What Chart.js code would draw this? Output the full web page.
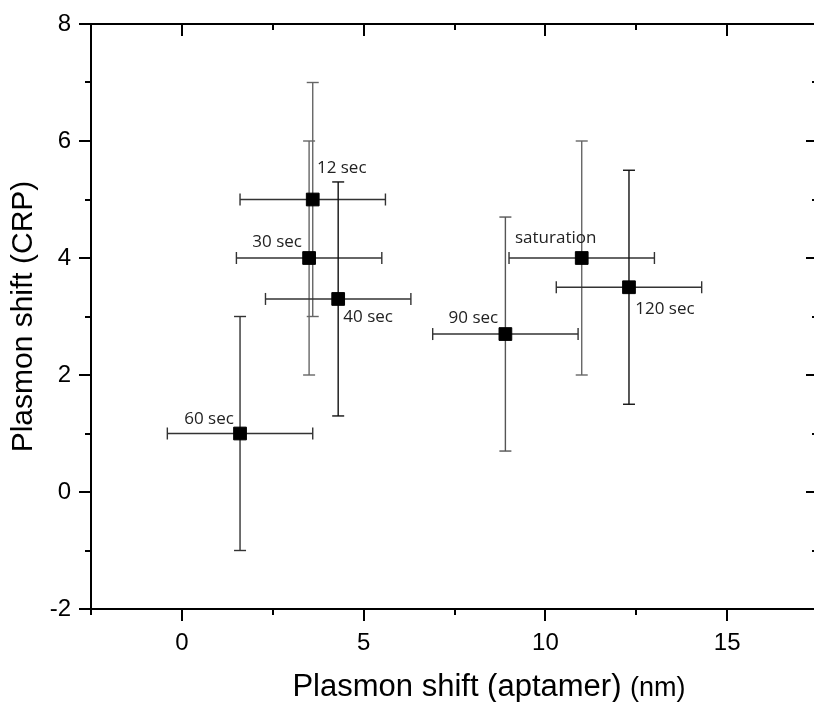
<!DOCTYPE html>
<html>
<head>
<meta charset="utf-8">
<script src="https://cdn.jsdelivr.net/npm/chart.js@4.4.1/dist/chart.umd.min.js"></script>
<style>
    html, body { margin: 0; padding: 0; background: #fff; overflow: hidden; }
    #wrap { position: relative; width: 814px; height: 702px; overflow: hidden; }
    #plot { position: absolute; left: 0; top: 0; }
</style>
</head>
<body>
<div id="wrap">
    <canvas id="plot" width="830" height="702"></canvas>
</div>
<script>
// time points
const pointLabels = ['12 sec', '30 sec', '40 sec', '60 sec', '90 sec', 'saturation', '120 sec'];
const aptamerShift = [3.6, 3.5, 4.3, 1.6, 8.9, 11.0, 12.3];
const crpShift = [5.0, 4.0, 3.3, 1.0, 2.7, 4.0, 3.5];
const aptamerError = [2, 2, 2, 2, 2, 2, 2];
const crpError = [2, 2, 2, 2, 2, 2, 2];

const xTicks = [0, 5, 10, 15];
const xMinorTicks = [-2.5, 2.5, 7.5, 12.5, 17.5];
const yTicks = [-2, 0, 2, 4, 6, 8];
const yMinorTicks = [-1, 1, 3, 5, 7];

// label placement next to each marker (pixels)
const labelOffsets = [[29, -31], [-32, -16], [30, 18], [-31, -14], [-32, -16], [-26, -20], [36, 22]];
// vertical error bar colours differ a bit in the original
const yErrColors = ['#666', '#666', '#111', '#333', '#555', '#666', '#111'];

document.addEventListener('DOMContentLoaded', function () {
    drawPlasmonChart();
});

function line(ctx, x1, y1, x2, y2) {
    ctx.beginPath();
    ctx.moveTo(x1, y1);
    ctx.lineTo(x2, y2);
    ctx.stroke();
}

const errorBarsPlugin = {
    id: 'errorBars',
    beforeDatasetsDraw(chart) {
        const ctx = chart.ctx;
        const xs = chart.scales.x;
        const ys = chart.scales.y;
        const cap = 6;
        ctx.save();
        ctx.lineWidth = 1.4;
        aptamerShift.forEach((xv, i) => {
            const px = xs.getPixelForValue(xv);
            const py = ys.getPixelForValue(crpShift[i]);
            // horizontal bar
            const xl = xs.getPixelForValue(xv - aptamerError[i]);
            const xr = xs.getPixelForValue(xv + aptamerError[i]);
            ctx.strokeStyle = '#333';
            line(ctx, xl, py, xr, py);
            line(ctx, xl, py - cap, xl, py + cap);
            line(ctx, xr, py - cap, xr, py + cap);
            // vertical bar
            const yt = ys.getPixelForValue(crpShift[i] + crpError[i]);
            const yb = ys.getPixelForValue(crpShift[i] - crpError[i]);
            ctx.strokeStyle = yErrColors[i];
            line(ctx, px, yt, px, yb);
            line(ctx, px - cap, yt, px + cap, yt);
            line(ctx, px - cap, yb, px + cap, yb);
        });
        ctx.restore();
    },
    afterDraw(chart) {
        const ctx = chart.ctx;
        const xs = chart.scales.x;
        const ys = chart.scales.y;
        const { left, right, top, bottom } = chart.chartArea;
        ctx.save();
        ctx.strokeStyle = '#000';
        ctx.lineWidth = 2;

        // top and right frame
        line(ctx, left - 1, top, right + 1, top);
        line(ctx, right, top, right, bottom);

        xTicks.forEach(v => {
            const px = Math.round(xs.getPixelForValue(v));
            line(ctx, px, bottom, px, bottom + 12);
            line(ctx, px, top, px, top + 12);
        });
        xMinorTicks.forEach(v => {
            const px = Math.round(xs.getPixelForValue(v));
            line(ctx, px, bottom, px, bottom + 6);
            line(ctx, px, top, px, top + 6);
        });
        yTicks.forEach(v => {
            const py = Math.round(ys.getPixelForValue(v));
            line(ctx, left - 12, py, left, py);
            line(ctx, right - 12, py, right, py);
        });
        yMinorTicks.forEach(v => {
            const py = Math.round(ys.getPixelForValue(v));
            line(ctx, left - 6, py, left, py);
            line(ctx, right - 6, py, right, py);
        });

        // point labels
        ctx.fillStyle = '#222';
        ctx.font = '17px "Open Sans"';
        ctx.textAlign = 'center';
        ctx.textBaseline = 'middle';
        pointLabels.forEach((lab, i) => {
            const px = xs.getPixelForValue(aptamerShift[i]);
            const py = ys.getPixelForValue(crpShift[i]);
            ctx.fillText(lab, px + labelOffsets[i][0], py + labelOffsets[i][1]);
        });

        // x axis title with the smaller unit
        const part1 = 'Plasmon shift (aptamer) ';
        const part2 = '(nm)';
        ctx.fillStyle = '#000';
        ctx.textAlign = 'left';
        ctx.textBaseline = 'alphabetic';
        ctx.font = '31px "Liberation Sans"';
        const w1 = ctx.measureText(part1).width;
        ctx.font = '27px "Liberation Sans"';
        const w2 = ctx.measureText(part2).width;
        const startX = 489 - (w1 + w2) / 2;
        ctx.font = '31px "Liberation Sans"';
        ctx.fillText(part1, startX, 696);
        ctx.font = '27px "Liberation Sans"';
        ctx.fillText(part2, startX + w1, 696);
        ctx.restore();
    }
};

function drawPlasmonChart() {
    const canvas = document.getElementById('plot');
    const ctx = canvas.getContext('2d');

    const points = aptamerShift.map((xv, i) => ({ x: xv, y: crpShift[i] }));

    canvas.chartInstance = new Chart(ctx, {
        type: 'scatter',
        data: {
            datasets: [
                {
                    label: 'CRP vs aptamer',
                    data: points,
                    pointStyle: 'rect',
                    pointRadius: 9,
                    pointHoverRadius: 9,
                    backgroundColor: '#000',
                    borderColor: '#000',
                    borderWidth: 1,
                },
            ],
        },
        options: {
            responsive: false,
            animation: false,
            layout: { padding: { left: 0, right: 12, top: 24, bottom: 0 } },
            plugins: {
                legend: { display: false },
                tooltip: { enabled: false },
            },
            scales: {
                x: {
                    type: 'linear',
                    min: -2.5,
                    max: 17.5,
                    afterBuildTicks: scale => { scale.ticks = xTicks.map(v => ({ value: v })); },
                    afterFit: scale => {
                        scale.height = 93;
                        scale.paddingLeft = 0;
                        scale.paddingRight = 0;
                    },
                    grid: { display: false },
                    border: { display: true, color: '#000', width: 2 },
                    ticks: {
                        color: '#000',
                        padding: 12,
                        maxRotation: 0,
                        font: { family: '"Liberation Sans", Arial', size: 24 },
                    },
                },
                y: {
                    type: 'linear',
                    min: -2,
                    max: 8,
                    afterBuildTicks: scale => { scale.ticks = yTicks.map(v => ({ value: v })); },
                    afterFit: scale => {
                        scale.width = 91;
                        scale.paddingTop = 0;
                        scale.paddingBottom = 0;
                    },
                    grid: { display: false },
                    border: { display: true, color: '#000', width: 2 },
                    ticks: {
                        color: '#000',
                        padding: 12,
                        font: { family: '"Liberation Sans", Arial', size: 24 },
                    },
                    title: {
                        display: true,
                        text: 'Plasmon shift (CRP)',
                        color: '#000',
                        padding: { top: 6, bottom: 0 },
                        font: { family: '"Liberation Sans", Arial', size: 30 },
                    },
                },
            },
        },
        plugins: [errorBarsPlugin],
    });
}
</script>
</body>
</html>
